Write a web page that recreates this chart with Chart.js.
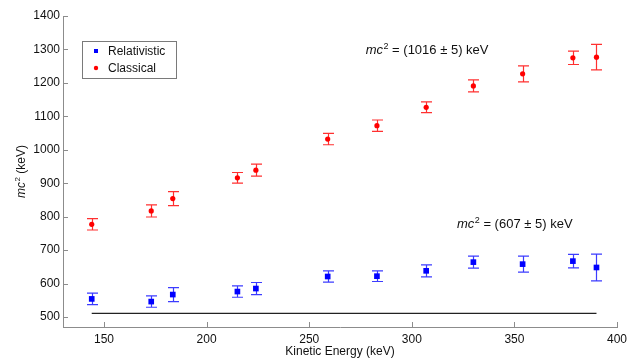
<!DOCTYPE html>
<html>
<head>
<meta charset="utf-8">
<script src="https://cdn.jsdelivr.net/npm/chart.js@4/dist/chart.umd.min.js"></script>
<style>
  html, body { margin: 0; padding: 0; background: #fff; }
  #wrap { width: 637px; height: 358px; }
</style>
</head>
<body>
<div id="wrap"><canvas id="chart"></canvas></div>
<script>
// Data
const energy = [144, 173, 183.5, 215, 224, 259, 283, 307, 330, 354, 378.5, 390];
const relMass = [554, 546, 567, 576, 585, 621, 622, 638, 664, 658, 667, 648];
const relErr = [17, 17, 21, 17, 18, 17, 16, 18, 18, 24, 20, 40];
const clsMass = [777, 817, 854, 916, 939, 1032, 1072, 1127, 1191, 1227, 1275, 1277];
const clsErr = [17, 18, 21, 16, 18, 17, 17, 16, 18, 24, 20, 38];
const baseLineX = [144, 390];
const baseLineY = 511;
const xTicks = [150, 200, 250, 300, 350, 400];
const yTicks = [500, 600, 700, 800, 900, 1000, 1100, 1200, 1300, 1400];

const FONT = '"Liberation Sans", Arial, sans-serif';
const AXIS_COLOR = '#8c8c8c';

function toPoints(xs, ys, errs) {
    return xs.map((x, i) => ({ x: x, y: ys[i], err: errs ? errs[i] : 0 }));
}

// draws "mc² ..." with italic mc and a raised 2
function drawMc2(ctx, x, y, rest, size) {
    ctx.save();
    ctx.textBaseline = 'alphabetic';
    ctx.textAlign = 'left';
    ctx.fillStyle = '#111';
    ctx.font = 'italic ' + size + 'px ' + FONT;
    ctx.fillText('mc', x, y);
    x += ctx.measureText('mc').width;
    ctx.font = Math.round(size * 0.7) + 'px ' + FONT;
    ctx.fillText('2', x + 0.5, y - size * 0.42);
    x += ctx.measureText('2').width + 0.5;
    ctx.font = size + 'px ' + FONT;
    ctx.fillText(rest, x, y);
    ctx.restore();
}

function textWidthMc2(ctx, rest, size) {
    ctx.save();
    ctx.font = 'italic ' + size + 'px ' + FONT;
    let w = ctx.measureText('mc').width;
    ctx.font = Math.round(size * 0.7) + 'px ' + FONT;
    w += ctx.measureText('2').width + 0.5;
    ctx.font = size + 'px ' + FONT;
    w += ctx.measureText(rest).width;
    ctx.restore();
    return w;
}

const errorBars = {
    id: 'errorBars',
    beforeDatasetsDraw(chart) {
        const ctx = chart.ctx;
        const xs = chart.scales.x, ys = chart.scales.y;
        chart.data.datasets.forEach(ds => {
            if (!ds.errorColor) return;
            ctx.save();
            ctx.strokeStyle = ds.errorColor;
            ctx.lineWidth = 1.2;
            ds.data.forEach(p => {
                const px = Math.round(xs.getPixelForValue(p.x)) + 0.5;
                const top = ys.getPixelForValue(p.y + p.err);
                const bot = ys.getPixelForValue(p.y - p.err);
                ctx.beginPath();
                ctx.moveTo(px, top); ctx.lineTo(px, bot);
                ctx.moveTo(px - 5.5, top); ctx.lineTo(px + 5.5, top);
                ctx.moveTo(px - 5.5, bot); ctx.lineTo(px + 5.5, bot);
                ctx.stroke();
            });
            ctx.restore();
        });
    }
};

const decorations = {
    id: 'decorations',
    afterDraw(chart) {
        const ctx = chart.ctx;
        const xs = chart.scales.x, ys = chart.scales.y;
        const area = chart.chartArea;

        // inward tick marks
        ctx.save();
        ctx.strokeStyle = AXIS_COLOR;
        ctx.lineWidth = 1;
        ctx.beginPath();
        xTicks.forEach(v => {
            const px = Math.round(xs.getPixelForValue(v)) + 0.5;
            ctx.moveTo(px, area.bottom); ctx.lineTo(px, area.bottom - 5);
        });
        yTicks.forEach(v => {
            const py = Math.round(ys.getPixelForValue(v)) + 0.5;
            ctx.moveTo(area.left, py); ctx.lineTo(area.left + 5, py);
        });
        ctx.stroke();
        ctx.restore();

        // legend box
        const lx = 82, ly = 41, lw = 94, lh = 37;
        ctx.save();
        ctx.fillStyle = '#fff';
        ctx.fillRect(lx, ly, lw, lh);
        ctx.strokeStyle = '#7a7a7a';
        ctx.lineWidth = 1;
        ctx.strokeRect(lx + 0.5, ly + 0.5, lw, lh);
        ctx.fillStyle = '#0000ff';
        ctx.fillRect(lx + 12, ly + 8, 4, 4);
        ctx.fillStyle = '#ff0000';
        ctx.beginPath();
        ctx.arc(lx + 14, ly + 27, 2.2, 0, Math.PI * 2);
        ctx.fill();
        ctx.fillStyle = '#111';
        ctx.font = '12px ' + FONT;
        ctx.textBaseline = 'middle';
        ctx.fillText('Relativistic', lx + 26, ly + 10.5);
        ctx.fillText('Classical', lx + 26, ly + 28);
        ctx.restore();

        // fit results
        drawMc2(ctx, xs.getPixelForValue(277.5), ys.getPixelForValue(1286), ' = (1016 \u00b1 5) keV', 13);
        drawMc2(ctx, xs.getPixelForValue(322), ys.getPixelForValue(766), ' = (607 \u00b1 5) keV', 13);

        // axis titles
        ctx.save();
        ctx.fillStyle = '#111';
        ctx.font = '12px ' + FONT;
        ctx.textAlign = 'center';
        ctx.textBaseline = 'alphabetic';
        ctx.fillText('Kinetic Energy (keV)', (area.left + area.right) / 2, 355);
        ctx.restore();

        ctx.save();
        ctx.translate(25, (area.top + area.bottom) / 2);
        ctx.rotate(-Math.PI / 2);
        const w = textWidthMc2(ctx, ' (keV)', 12);
        drawMc2(ctx, -w / 2, 0, ' (keV)', 12);
        ctx.restore();
    }
};

new Chart(document.getElementById('chart'), {
    type: 'scatter',
    data: {
        datasets: [
            {
                label: 'Relativistic',
                data: toPoints(energy, relMass, relErr),
                errorColor: '#3c3cff',
                pointStyle: 'rect',
                pointRadius: 4,
                backgroundColor: '#0000ff',
                borderColor: '#0000ff',
                borderWidth: 0
            },
            {
                label: 'Classical',
                data: toPoints(energy, clsMass, clsErr),
                errorColor: '#ff3030',
                pointStyle: 'circle',
                pointRadius: 2.6,
                backgroundColor: '#ff0000',
                borderColor: '#ff0000',
                borderWidth: 0
            },
            {
                label: 'baseline',
                data: baseLineX.map(x => ({ x: x, y: baseLineY })),
                showLine: true,
                borderColor: '#222',
                borderWidth: 1.3,
                pointRadius: 0
            }
        ]
    },
    options: {
        responsive: true,
        maintainAspectRatio: false,
        animation: false,
        events: [],
        layout: { padding: { top: 16, right: 20, left: 0, bottom: 0 } },
        plugins: {
            legend: { display: false },
            tooltip: { enabled: false }
        },
        scales: {
            x: {
                type: 'linear',
                min: 130,
                max: 400,
                afterBuildTicks: s => { s.ticks = xTicks.map(v => ({ value: v })); },
                afterFit: s => { s.height = 31; },
                grid: { drawOnChartArea: false, drawTicks: false },
                border: { display: true, color: AXIS_COLOR, width: 1 },
                ticks: { color: '#111', font: { family: FONT, size: 12 }, padding: 5, maxRotation: 0,
                         callback: v => String(v) }
            },
            y: {
                type: 'linear',
                min: 470,
                max: 1400,
                afterBuildTicks: s => { s.ticks = yTicks.map(v => ({ value: v })); },
                afterFit: s => { s.width = 63; },
                grid: { drawOnChartArea: false, drawTicks: false },
                border: { display: true, color: AXIS_COLOR, width: 1 },
                ticks: { color: '#111', font: { family: FONT, size: 12 }, padding: 3,
                         callback: v => String(v) }
            }
        }
    },
    plugins: [errorBars, decorations]
});
</script>
</body>
</html>
